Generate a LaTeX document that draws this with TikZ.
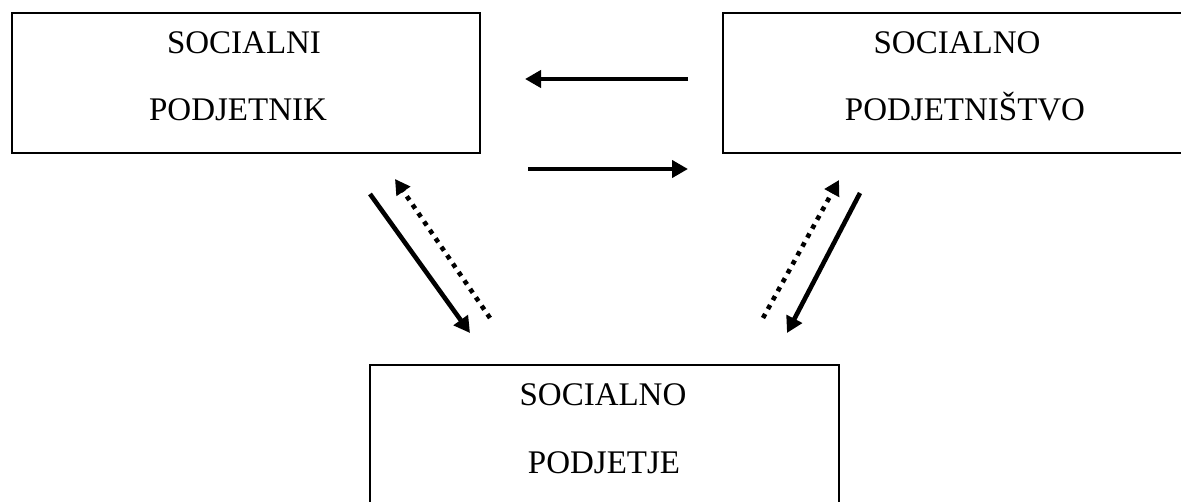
\documentclass[tikz,border=0pt]{standalone}
\usepackage{fontspec}
\setmainfont{Liberation Serif}
\usetikzlibrary{arrows.meta}
\begin{document}
\begin{tikzpicture}[x=1pt,y=-1pt,
  box/.style={draw=black, line width=2pt, rectangle, inner sep=0pt},
  lbl/.style={anchor=base, inner sep=0pt, font=\fontsize{33}{33}\selectfont},
  solidarrow/.style={line width=4.6pt, -{Triangle[length=16pt,width=17pt]}},
  dotarrow/.style={line width=4.6pt, dash pattern=on 4.6pt off 5.6pt, -{Triangle[length=15pt,width=16pt]}}]
\useasboundingbox (0,0) rectangle (1181,501);
\clip (0,0) rectangle (1181,501);
\fill[white] (0,0) rectangle (1181,501);
% boxes
\node[box, minimum width=468pt, minimum height=140pt] (pod) at (246,83) {};
\node[box, minimum width=474pt, minimum height=140pt] (pods) at (960,83) {};
\node[box, minimum width=469pt, minimum height=150pt] (podj) at (604.5,440) {};
% labels
\node[lbl] (t1) at (244,53) {SOCIALNI};
\node[lbl] (t2) at (238,120) {PODJETNIK};
\node[lbl] (t3) at (957,53) {SOCIALNO};
\node[lbl] (t4) at (965,120) {PODJETNIŠTVO};
\node[lbl] (t5) at (603,405) {SOCIALNO};
\node[lbl] (t6) at (604,473) {PODJETJE};
% arrow ends
\coordinate (a1s) at (688,79);  \coordinate (a1e) at (525,79);
\coordinate (a2s) at (528,169); \coordinate (a2e) at (688,169);
\coordinate (a3s) at (370,194); \coordinate (a3e) at (470,333);
\coordinate (a4s) at (490,318); \coordinate (a4e) at (395,179);
\coordinate (a5s) at (763,318); \coordinate (a5e) at (839,180);
\coordinate (a6s) at (860,193); \coordinate (a6e) at (787,333);
\draw[solidarrow] (a1s) -- (a1e);
\draw[solidarrow] (a2s) -- (a2e);
\draw[solidarrow] (a3s) -- (a3e);
\draw[dotarrow] (a4s) -- (a4e);
\draw[dotarrow] (a5s) -- (a5e);
\draw[solidarrow] (a6s) -- (a6e);
\end{tikzpicture}
\end{document}
